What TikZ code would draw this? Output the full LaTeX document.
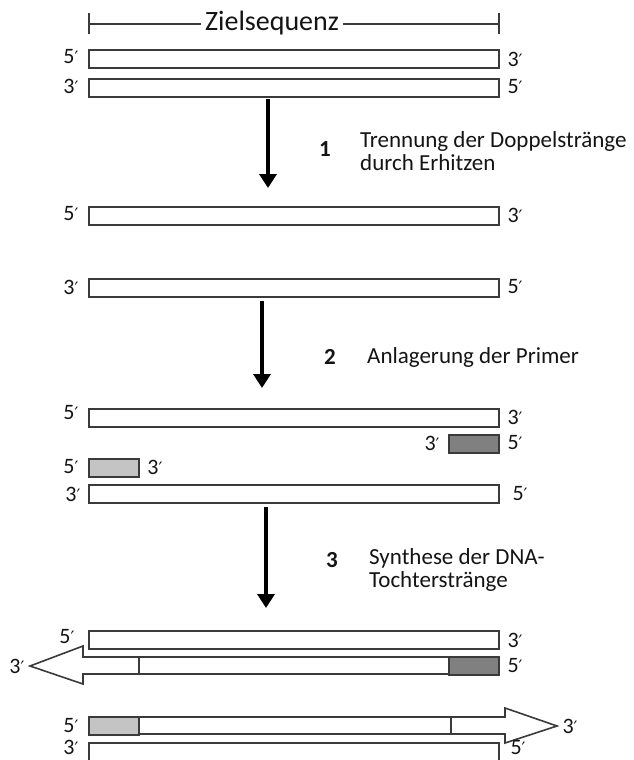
\documentclass[tikz,border=0pt]{standalone}
\usepackage{fontspec}
\setmainfont{Carlito}
\newfontfamily\primefont{DejaVu Sans}
\newcommand{\pr}{{\primefont\fontsize{17}{18}\selectfont ′}}
\usetikzlibrary{arrows.meta}
\definecolor{linec}{HTML}{3A3A3A}
\definecolor{darkp}{HTML}{808080}
\definecolor{lightp}{HTML}{C4C4C4}
\definecolor{txt}{HTML}{141414}
\begin{document}
\begin{tikzpicture}[x=1pt,y=-1pt,
  every node/.style={text=txt},
  strandbox/.style={draw=linec, line width=2pt, fill=white, inner sep=0pt, outer sep=0pt, minimum width=410pt, minimum height=18pt},
  primerbox/.style={draw=linec, line width=2pt, inner sep=0pt, outer sep=0pt, minimum width=50pt, minimum height=18pt},
  lbl/.style={font=\fontsize{22}{24}\selectfont, inner sep=0pt},
  steptext/.style={font=\fontsize{23}{23}\selectfont, align=left, anchor=west, inner sep=0pt},
  stepnum/.style={font=\fontsize{23}{24}\selectfont\bfseries, inner sep=0pt},
  bigarrow/.style={line width=3.5pt, -{Triangle[width=17pt,length=14pt]}},
  blockarrow/.style={draw=linec, line width=1.6pt, fill=white, line join=miter}
]
\useasboundingbox (0,0) rectangle (633,760);

% Zielsequenz bracket
\coordinate (zl) at (89,24);
\coordinate (zr) at (499,24);
\draw[linec, line width=2pt] (zl) -- (zr);
\draw[linec, line width=2pt] (89,13) -- (89,34);
\draw[linec, line width=2pt] (499,13) -- (499,34);
\node[fill=white, font=\fontsize{28}{30}\selectfont, inner sep=4pt] (ziel) at (272,23) {Zielsequenz};

% Row 1
\node[strandbox] (s1a) at (294,59) {};
\node[strandbox] (s1b) at (294,87.5) {};
\node[lbl] (l1a) at (71,57) {5\pr};
\node[lbl] (r1a) at (515,59) {3\pr};
\node[lbl] (l1b) at (71,86) {3\pr};
\node[lbl] (r1b) at (515,87) {5\pr};

% Arrow 1
\coordinate (a1s) at (268,99);
\coordinate (a1e) at (268,188);
\draw[bigarrow] (a1s) -- (a1e);
\node[stepnum] (n1) at (325,149) {1};
\node[steptext] (t1) at (360,151.5) {Trennung der Doppelstränge\\durch Erhitzen};

% Row 2
\node[strandbox] (s2a) at (294,215.5) {};
\node[strandbox] (s2b) at (294,287.5) {};
\node[lbl] (l2a) at (71,214) {5\pr};
\node[lbl] (r2a) at (515,215) {3\pr};
\node[lbl] (l2b) at (71,287) {3\pr};
\node[lbl] (r2b) at (515,287) {5\pr};

% Arrow 2
\coordinate (a2s) at (262,301);
\coordinate (a2e) at (262,388);
\draw[bigarrow] (a2s) -- (a2e);
\node[stepnum] (n2) at (330,357) {2};
\node[steptext] (t2) at (367,357) {Anlagerung der Primer};

% Row 3
\node[strandbox] (s3a) at (294,417.5) {};
\node[primerbox, fill=darkp] (p3a) at (474,443.5) {};
\node[primerbox, fill=lightp] (p3b) at (114,467.5) {};
\node[strandbox] (s3b) at (294,494) {};
\node[lbl] (l3a) at (71,413) {5\pr};
\node[lbl] (r3a) at (515,417) {3\pr};
\node[lbl] (l3p) at (432,443) {3\pr};
\node[lbl] (r3p) at (515,443) {5\pr};
\node[lbl] (l3q) at (71,467) {5\pr};
\node[lbl] (r3q) at (155,467) {3\pr};
\node[lbl] (l3b) at (73,494) {3\pr};
\node[lbl] (r3b) at (520,494) {5\pr};

% Arrow 3
\coordinate (a3s) at (266,507);
\coordinate (a3e) at (266,608);
\draw[bigarrow] (a3s) -- (a3e);
\node[stepnum] (n3) at (332,560) {3};
\node[steptext] (t3) at (369,570) {Synthese der DNA-\\Tochterstränge};

% Row 4
\node[strandbox] (s4a) at (294,639.5) {};
% upper daughter strand (pointing left)
\draw[blockarrow] (499,657) -- (83,657) -- (83,646) -- (30,666) -- (83,684) -- (83,674) -- (499,674) -- cycle;
\node[primerbox, fill=darkp] (p4a) at (474,665.5) {};
\draw[linec, line width=1.6pt] (139,657) -- (139,674);
% lower daughter strand (pointing right)
\draw[blockarrow] (89,717) -- (505,717) -- (505,708) -- (557,726) -- (505,743) -- (505,734) -- (89,734) -- cycle;
\node[primerbox, fill=lightp] (p4b) at (114,725.5) {};
\draw[linec, line width=1.6pt] (451,717) -- (451,734);
\node[strandbox] (s4b) at (294,752) {};

\node[lbl] (l4a) at (67,637) {5\pr};
\node[lbl] (r4a) at (515,640) {3\pr};
\node[lbl] (l4c) at (17,666) {3\pr};
\node[lbl] (r4c) at (515,666) {5\pr};
\node[lbl] (l4d) at (71,726) {5\pr};
\node[lbl] (r4d) at (570,726) {3\pr};
\node[lbl] (l4b) at (71,747) {3\pr};
\node[lbl] (r4b) at (518,748) {5\pr};
\end{tikzpicture}
\end{document}
